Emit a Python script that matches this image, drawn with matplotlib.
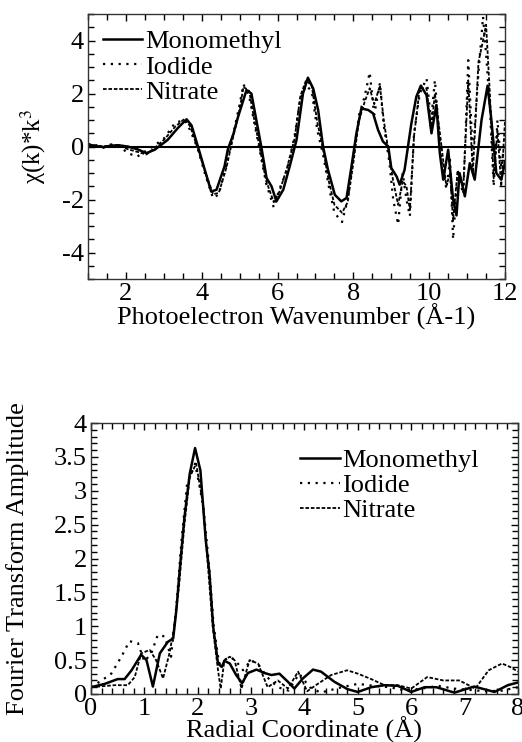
import matplotlib
matplotlib.use("Agg")
import matplotlib.pyplot as plt
from matplotlib.ticker import MultipleLocator

plt.rcParams['font.family'] = ['Liberation Serif', 'DejaVu Serif']
plt.rcParams['mathtext.fontset'] = 'stix'
plt.rcParams['axes.unicode_minus'] = False
plt.rcParams['font.size'] = 19

# EXAFS chi(k)*k^3
k_mono = [1.0, 1.2, 1.4, 1.6, 1.8, 2.05, 2.3, 2.54, 2.76, 3.1, 3.37, 3.6, 3.73, 3.9, 4.08, 4.25, 4.39, 4.6,
          4.69, 4.83, 4.96, 5.18, 5.31, 5.44, 5.57, 5.71, 5.84, 5.97, 6.15, 6.32, 6.5, 6.67, 6.8, 6.94, 7.07,
          7.2, 7.33, 7.51, 7.68, 7.82, 7.95, 8.08, 8.21, 8.39, 8.52, 8.65, 8.78, 8.92, 9.0, 9.14, 9.22, 9.35,
          9.53, 9.66, 9.78, 9.93, 10.06, 10.19, 10.28, 10.37, 10.5, 10.63, 10.72, 10.8, 10.94, 11.07, 11.2,
          11.38, 11.54, 11.64, 11.77, 11.9, 12.0]
chi_mono = [0.08, 0.02, -0.02, 0.03, 0.05, 0.0, -0.1, -0.25, -0.12, 0.25, 0.7, 1.03, 0.8, 0.0, -0.88, -1.7,
            -1.63, -0.75, -0.1, 0.45, 1.13, 2.13, 2.0, 1.0, 0.0, -1.19, -1.5, -2.07, -1.63, -0.75, 0.25, 2.0,
            2.6, 2.19, 1.38, 0.0, -0.88, -1.82, -2.07, -1.94, -0.75, 0.5, 1.44, 1.38, 1.25, 0.63, 0.19, 0.0,
            -0.81, -1.13, -1.44, -0.88, 0.88, 1.88, 2.3, 1.94, 0.5, 1.57, -0.25, -1.25, -0.12, -2.0, -2.6,
            -1.0, -1.88, -0.63, -1.25, 1.0, 2.3, 1.0, -1.0, -1.25, -0.6]

k_other = [1.0, 1.2, 1.4, 1.6, 1.8, 2.05, 2.3, 2.54, 2.76, 3.0, 3.3, 3.55, 3.7, 3.9, 4.1, 4.3, 4.45, 4.65,
           4.85, 5.0, 5.1, 5.25, 5.4, 5.55, 5.7, 5.9, 6.05, 6.25, 6.45, 6.6, 6.75, 6.9, 7.05, 7.2, 7.35, 7.5,
           7.7, 7.85, 8.0, 8.15, 8.3, 8.43, 8.55, 8.7, 8.8, 8.95, 9.05, 9.18, 9.3, 9.4, 9.49, 9.6, 9.75, 9.93,
           10.05, 10.15, 10.3, 10.45, 10.55, 10.63, 10.75, 10.9, 11.03, 11.15, 11.3, 11.42, 11.5, 11.6, 11.7,
           11.8, 11.9, 12.0]
chi_iod = [0.1, 0.05, -0.05, 0.08, 0.05, -0.25, -0.38, -0.15, 0.05, 0.3, 0.9, 1.0, 0.6, -0.1, -1.1, -1.95,
           -1.8, -0.7, 0.6, 1.6, 2.35, 1.9, 0.8, -0.3, -1.4, -2.3, -1.6, -0.9, 0.4, 1.8, 2.3, 2.1, 0.6, -0.3,
           -1.5, -2.5, -2.85, -2.0, -0.4, 1.2, 1.9, 2.8, 1.2, 2.4, 0.8, -0.6, -2.0, -2.94, -1.0, -2.0, -2.63,
           0.5, 2.0, 2.57, 1.0, 2.5, -0.2, -1.6, -0.5, -3.5, -1.0, -1.8, 3.26, -0.3, 2.8, 4.9, 3.5, 1.5, -1.5,
           1.0, -0.8, 0.3]
chi_nit = [0.05, 0.05, 0.0, 0.05, 0.05, -0.1, -0.2, -0.3, -0.05, 0.25, 0.75, 1.05, 0.75, -0.1, -1.0, -1.8,
           -1.75, -0.8, 0.5, 1.4, 2.25, 2.1, 0.9, -0.2, -1.3, -2.1, -1.7, -0.8, 0.3, 1.9, 2.5, 2.3, 0.9, -0.1,
           -1.3, -2.2, -2.5, -2.1, -0.6, 1.0, 1.7, 2.2, 1.6, 2.3, 1.0, -0.4, -1.3, -2.2, -1.3, -1.5, -2.4,
           0.4, 2.2, 2.2, 0.6, 2.0, 0.3, -1.5, -1.0, -2.8, -0.9, -1.5, 2.5, -1.0, 3.2, 4.0, 4.6, 2.0, -1.2,
           0.6, -1.5, 1.0]

# Fourier transform amplitude vs R
R_mono = [0, 0.26, 0.5, 0.63, 0.76, 0.94, 1.04, 1.16, 1.29, 1.44, 1.54, 1.6, 1.67, 1.75, 1.85, 1.95, 2.05,
          2.15, 2.22, 2.29, 2.38, 2.45, 2.5, 2.6, 2.72, 2.83, 2.94, 3.1, 3.25, 3.38, 3.53, 3.69, 3.81, 3.97,
          4.16, 4.31, 4.56, 4.81, 5.0, 5.25, 5.5, 5.75, 6.0, 6.25, 6.47, 6.81, 7.18, 7.56, 7.81, 8.0]
A_mono = [0.1, 0.15, 0.22, 0.22, 0.35, 0.58, 0.5, 0.11, 0.6, 0.77, 0.82, 1.24, 1.9, 2.6, 3.25, 3.63, 3.3,
          2.27, 1.78, 0.99, 0.45, 0.4, 0.49, 0.45, 0.28, 0.16, 0.31, 0.36, 0.31, 0.28, 0.3, 0.18, 0.08, 0.23,
          0.36, 0.33, 0.18, 0.07, 0.03, 0.1, 0.13, 0.12, 0.03, 0.1, 0.1, 0.02, 0.11, 0.03, 0.13, 0.17]

R_iod = [0, 0.2, 0.38, 0.57, 0.72, 0.88, 1.0, 1.13, 1.25, 1.38, 1.5, 1.6, 1.7, 1.8, 1.95, 2.1, 2.2, 2.3,
         2.4, 2.5, 2.6, 2.7, 2.85, 3.0, 3.15, 3.3, 3.5, 3.7, 3.9, 4.1, 4.3, 4.5, 4.7, 5.0, 5.3, 5.6, 5.9,
         6.2, 6.5, 6.8, 7.1, 7.4, 7.7, 8.0]
A_iod = [0.1, 0.2, 0.3, 0.55, 0.78, 0.75, 0.48, 0.6, 0.87, 0.85, 0.55, 1.3, 2.3, 3.1, 3.4, 2.8, 2.0, 1.0,
         0.45, 0.5, 0.55, 0.5, 0.35, 0.5, 0.42, 0.25, 0.1, 0.05, 0.3, 0.1, 0.02, 0.06, 0.1, 0.15, 0.12, 0.1,
         0.05, 0.08, 0.12, 0.08, 0.06, 0.04, 0.05, 0.1]

R_nit = [0, 0.44, 0.69, 0.82, 0.94, 1.1, 1.22, 1.35, 1.47, 1.55, 1.65, 1.75, 1.85, 1.97, 2.1, 2.2, 2.28,
         2.38, 2.43, 2.5, 2.6, 2.69, 2.82, 2.97, 3.13, 3.31, 3.5, 3.69, 3.88, 4.05, 4.25, 4.5, 4.8, 5.0,
         5.25, 5.5, 5.75, 6.0, 6.3, 6.6, 6.9, 7.2, 7.45, 7.7, 7.85, 8.0]
A_nit = [0.1, 0.13, 0.13, 0.25, 0.6, 0.65, 0.5, 0.23, 0.6, 0.94, 1.6, 2.5, 3.2, 3.4, 2.8, 1.8, 1.0, 0.35,
         0.08, 0.5, 0.55, 0.5, 0.08, 0.5, 0.45, 0.1, 0.2, 0.08, 0.33, 0.04, 0.15, 0.28, 0.35, 0.3, 0.22,
         0.13, 0.13, 0.08, 0.25, 0.2, 0.2, 0.08, 0.35, 0.45, 0.4, 0.33]

labels = ["Monomethyl", "Iodide", "Nitrate"]
styles = [dict(color='black', lw=1.8, ls='-'),
          dict(color='black', lw=1.6, ls=(0, (1, 2.5))),
          dict(color='black', lw=1.3, ls=(0, (2, 1)))]


def style_axes(ax):
    ax.tick_params(which='both', direction='in', top=True, right=True, labelsize=19, pad=3)
    ax.tick_params(which='major', length=5, width=1)
    ax.tick_params(which='minor', length=4, width=1)
    for s in ax.spines.values():
        s.set_linewidth(1)
        s.set_color('#333333')


fig = plt.figure(figsize=(5.22, 7.42), dpi=100)

ax1 = fig.add_axes([0.1686, 0.624, 0.7989, 0.357])
ax1.plot(k_mono, chi_mono, label=labels[0], **styles[0])
ax1.plot(k_other, chi_iod, label=labels[1], **styles[1])
ax1.plot(k_other, chi_nit, label=labels[2], **styles[2])
ax1.axhline(0, color='black', lw=1.5)
ax1.set_xlim(1, 12)
ax1.set_ylim(-5, 5)
ax1.xaxis.set_major_locator(MultipleLocator(2))
ax1.xaxis.set_minor_locator(MultipleLocator(0.5))
ax1.yaxis.set_major_locator(MultipleLocator(2))
ax1.yaxis.set_minor_locator(MultipleLocator(0.5))
style_axes(ax1)
ax1.set_xlabel("Photoelectron Wavenumber (Å-1)", fontsize=19, labelpad=-1)
ax1.set_ylabel(r"χ(k)*k$^{3}$", fontsize=18, labelpad=10)
ax1.legend(loc='upper left', bbox_to_anchor=(0.035, 0.94), frameon=False, fontsize=19,
           handlelength=1.5, handletextpad=0.1, labelspacing=0.06, borderpad=0, borderaxespad=0)

ax2 = fig.add_axes([0.1743, 0.0647, 0.818, 0.3652])
ax2.plot(R_mono, A_mono, label=labels[0], **styles[0])
ax2.plot(R_iod, A_iod, label=labels[1], **styles[1])
ax2.plot(R_nit, A_nit, label=labels[2], **styles[2])
ax2.set_xlim(0, 8)
ax2.set_ylim(0, 4)
ax2.xaxis.set_major_locator(MultipleLocator(1))
ax2.xaxis.set_minor_locator(MultipleLocator(0.2))
ax2.yaxis.set_major_locator(MultipleLocator(0.5))
ax2.yaxis.set_minor_locator(MultipleLocator(0.1))
ax2.yaxis.set_major_formatter(plt.FuncFormatter(lambda v, p: f"{v:g}"))
style_axes(ax2)
ax2.set_xlabel("Radial Coordinate (Å)", fontsize=19, labelpad=-2.5)
ax2.set_ylabel("Fourier Transform Amplitude", fontsize=19, labelpad=18)
ax2.legend(loc='upper left', bbox_to_anchor=(0.49, 0.905), frameon=False, fontsize=19,
           handlelength=1.5, handletextpad=0.1, labelspacing=0.06, borderpad=0, borderaxespad=0)

fig.savefig("out.png", dpi=100)
